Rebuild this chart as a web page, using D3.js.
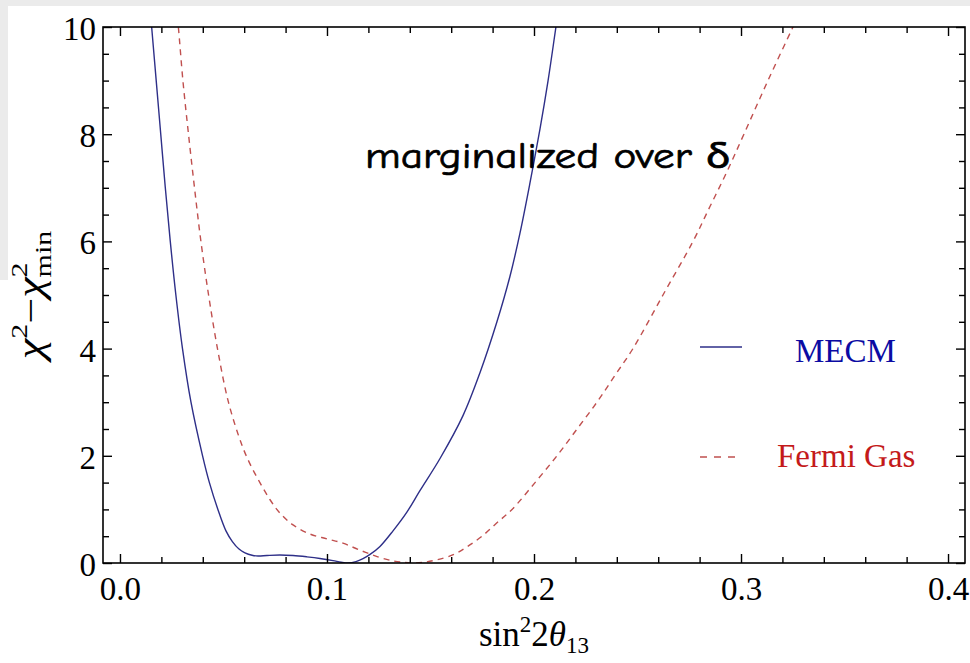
<!DOCTYPE html>
<html>
<head>
<meta charset="utf-8">
<script src="https://cdn.jsdelivr.net/npm/d3@7/dist/d3.min.js"></script>
<style>
  html, body { margin: 0; padding: 0; background: #ffffff; }
  svg { display: block; }
</style>
</head>
<body>
<svg id="chart" width="970" height="663"></svg>
<script>
// sin^2(2θ13) grid and Δχ² values for the two nuclear models
const mecmX = [0.0142, 0.0153, 0.0175, 0.0197, 0.0219, 0.0243, 0.0270, 0.0302, 0.0343, 0.0399, 0.0432,
               0.0473, 0.0512, 0.0543, 0.0575, 0.0604, 0.0638, 0.0667, 0.0710, 0.0773, 0.0836,
               0.0903, 0.0966, 0.1029, 0.1068, 0.1101, 0.1140, 0.1174, 0.1208, 0.1256, 0.1319,
               0.1386, 0.1449, 0.1546, 0.1657, 0.1739, 0.1821, 0.1884, 0.1932, 0.1981, 0.2029,
               0.2068, 0.2106, 0.2135];
const mecmChi = [10.5, 10.0, 9.0, 8.0, 7.0, 6.0, 5.0, 4.0, 3.0, 2.0, 1.5,
                 1.0, 0.60, 0.40, 0.26, 0.19, 0.145, 0.13, 0.14, 0.15, 0.14,
                 0.115, 0.085, 0.045, 0.015, 0.0, 0.025, 0.08, 0.16, 0.31, 0.60,
                 0.95, 1.35, 1.95, 2.75, 3.55, 4.5, 5.35, 6.15, 7.1, 8.1,
                 9.0, 10.0, 10.75];

const fermiX = [0.0271, 0.0282, 0.0304, 0.0331, 0.0360, 0.0391, 0.0428, 0.0471, 0.0524, 0.0589, 0.0628,
                0.0676, 0.0725, 0.0773, 0.0836, 0.0918, 0.1000, 0.1077, 0.1159, 0.1242, 0.1319,
                0.1377, 0.1425, 0.1473, 0.1531, 0.1614, 0.1676, 0.1749, 0.1821, 0.1894, 0.2005,
                0.2111, 0.2208, 0.2304, 0.2391, 0.2478, 0.2623, 0.2768, 0.2850, 0.2932, 0.3014,
                0.3130, 0.3251, 0.3300];
const fermiChi = [10.4, 10.0, 9.0, 8.0, 7.0, 6.0, 5.0, 4.0, 3.0, 2.2, 1.85,
                  1.5, 1.18, 0.93, 0.71, 0.54, 0.45, 0.37, 0.24, 0.12, 0.04,
                  0.01, 0.0, 0.015, 0.06, 0.16, 0.30, 0.50, 0.75, 1.0, 1.5,
                  2.0, 2.5, 3.0, 3.5, 4.0, 5.0, 6.0, 6.65, 7.3, 8.0,
                  9.0, 10.0, 10.4];

const xMajor = [0.0, 0.1, 0.2, 0.3, 0.4];
const xMinor = d3.range(0, 21).map(i => +(i * 0.02).toFixed(2));
const yMajor = [0, 2, 4, 6, 8, 10];
const yMinor = d3.range(0, 21).map(i => i * 0.5);

const seriesNames = ["MECM", "Fermi Gas"];
const annotation = "marginalized over δ";

const svg = d3.select("#chart");
const W = 970, H = 663;
const plot = { left: 103, right: 965, top: 27, bottom: 563 };

// light border strip along the top and upper left edge
svg.append("rect").attr("x", 0).attr("y", 0).attr("width", W).attr("height", 6).attr("fill", "#ebebeb");
svg.append("rect").attr("x", 0).attr("y", 0).attr("width", 8).attr("height", 280).attr("fill", "#ebebeb");

const x = d3.scaleLinear().domain([-0.0082, 0.4082]).range([plot.left, plot.right]);
const y = d3.scaleLinear().domain([0, 10]).range([plot.bottom, plot.top]);

const serif = "'Liberation Serif', 'Times New Roman', Times, serif";

svg.append("clipPath").attr("id", "plotClip")
  .append("rect")
  .attr("x", plot.left).attr("y", plot.top)
  .attr("width", plot.right - plot.left).attr("height", plot.bottom - plot.top);

// curves
const line = d3.line()
  .x(d => x(d[0]))
  .y(d => y(d[1]))
  .curve(d3.curveCatmullRom.alpha(0.5));

const curves = svg.append("g").attr("clip-path", "url(#plotClip)");
curves.append("path")
  .datum(fermiX.map((v, i) => [v, fermiChi[i]]))
  .attr("d", line)
  .attr("fill", "none")
  .attr("stroke", "#c0504f")
  .attr("stroke-width", 1.4)
  .attr("stroke-dasharray", "6,5");
curves.append("path")
  .datum(mecmX.map((v, i) => [v, mecmChi[i]]))
  .attr("d", line)
  .attr("fill", "none")
  .attr("stroke", "#2e2f88")
  .attr("stroke-width", 1.4);

// axes: ticks on all four sides, pointing inward
function styleAxis(g) {
  g.select(".domain").remove();
  g.selectAll(".tick line").attr("stroke", "#000").attr("stroke-width", 1.4);
}
const notMajorX = v => !xMajor.some(m => Math.abs(m - v) < 1e-9);

svg.append("g").attr("transform", `translate(0,${plot.bottom})`)
  .call(d3.axisBottom(x).tickValues(xMinor.filter(notMajorX)).tickSize(-6).tickFormat(""))
  .call(styleAxis);
svg.append("g").attr("transform", `translate(0,${plot.bottom})`)
  .call(d3.axisBottom(x).tickValues(xMajor).tickSize(-9).tickFormat(d3.format(".1f")))
  .call(styleAxis)
  .call(g => g.selectAll("text")
    .attr("y", 37).attr("dy", 0)
    .attr("font-family", serif).attr("font-size", 33).attr("fill", "#000"));

svg.append("g").attr("transform", `translate(0,${plot.top})`)
  .call(d3.axisTop(x).tickValues(xMinor.filter(notMajorX)).tickSize(-6).tickFormat(""))
  .call(styleAxis);
svg.append("g").attr("transform", `translate(0,${plot.top})`)
  .call(d3.axisTop(x).tickValues(xMajor).tickSize(-9).tickFormat(""))
  .call(styleAxis);

svg.append("g").attr("transform", `translate(${plot.left},0)`)
  .call(d3.axisLeft(y).tickValues(yMinor.filter(v => v % 2 !== 0)).tickSize(-6).tickFormat(""))
  .call(styleAxis);
svg.append("g").attr("transform", `translate(${plot.left},0)`)
  .call(d3.axisLeft(y).tickValues(yMajor).tickSize(-9).tickFormat(d3.format("d")))
  .call(styleAxis)
  .call(g => g.selectAll("text")
    .attr("x", -7).attr("dy", "0.38em")
    .attr("font-family", serif).attr("font-size", 33).attr("fill", "#000"));

svg.append("g").attr("transform", `translate(${plot.right},0)`)
  .call(d3.axisRight(y).tickValues(yMinor.filter(v => v % 2 !== 0)).tickSize(-6).tickFormat(""))
  .call(styleAxis);
svg.append("g").attr("transform", `translate(${plot.right},0)`)
  .call(d3.axisRight(y).tickValues(yMajor).tickSize(-9).tickFormat(""))
  .call(styleAxis);

// frame
svg.append("rect")
  .attr("x", plot.left).attr("y", plot.top)
  .attr("width", plot.right - plot.left).attr("height", plot.bottom - plot.top)
  .attr("fill", "none").attr("stroke", "#000").attr("stroke-width", 1.6);

// x-axis title: sin²2θ₁₃
const xt = svg.append("text")
  .attr("x", 534).attr("y", 646)
  .attr("text-anchor", "middle")
  .attr("font-family", serif).attr("font-size", 35).attr("fill", "#000");
xt.append("tspan").text("sin");
xt.append("tspan").attr("font-size", 23).attr("dy", -14).text("2");
xt.append("tspan").attr("dy", 14).text("2");
xt.append("tspan").attr("font-style", "italic").text("θ");
xt.append("tspan").attr("font-size", 23).attr("dy", 7).text("13");

// y-axis title: χ² − χ²min, stretched along its reading direction
const yt = svg.append("text")
  .attr("transform", `translate(43,${(plot.top + plot.bottom) / 2}) rotate(-90) scale(1.25,1)`)
  .attr("text-anchor", "middle")
  .attr("font-family", serif).attr("font-size", 37).attr("fill", "#000");
yt.append("tspan").attr("font-style", "italic").text("χ");
yt.append("tspan").attr("font-size", 24).attr("dy", -16).text("2");
yt.append("tspan").attr("dy", 16).text("−");
yt.append("tspan").attr("font-style", "italic").text("χ");
yt.append("tspan").attr("font-size", 24).attr("dy", -16).text("2");
yt.append("tspan").attr("font-size", 24).attr("dx", -12).attr("dy", 24).text("min");

// annotation
svg.append("text")
  .attr("x", 365).attr("y", 168)
  .attr("font-family", "'Comic Sans MS', 'Comic Neue', Lato, 'Noto Sans', sans-serif")
  .attr("font-size", 36).attr("fill", "#000")
  .attr("stroke", "#000").attr("stroke-width", 0.7)
  .attr("textLength", 365).attr("lengthAdjust", "spacingAndGlyphs")
  .text(annotation);

// legend
const legend = svg.append("g");
legend.append("line").attr("x1", 700).attr("x2", 742).attr("y1", 347).attr("y2", 347)
  .attr("stroke", "#2e2f88").attr("stroke-width", 1.4);
legend.append("text").attr("x", 795).attr("y", 362)
  .attr("font-family", serif).attr("font-size", 33).attr("fill", "#0b0ba3")
  .text(seriesNames[0]);
legend.append("line").attr("x1", 700).attr("x2", 741).attr("y1", 457).attr("y2", 457)
  .attr("stroke", "#c0504f").attr("stroke-width", 1.4).attr("stroke-dasharray", "7,7");
legend.append("text").attr("x", 777).attr("y", 467)
  .attr("font-family", serif).attr("font-size", 33).attr("fill", "#c41a1a")
  .text(seriesNames[1]);
</script>
</body>
</html>
